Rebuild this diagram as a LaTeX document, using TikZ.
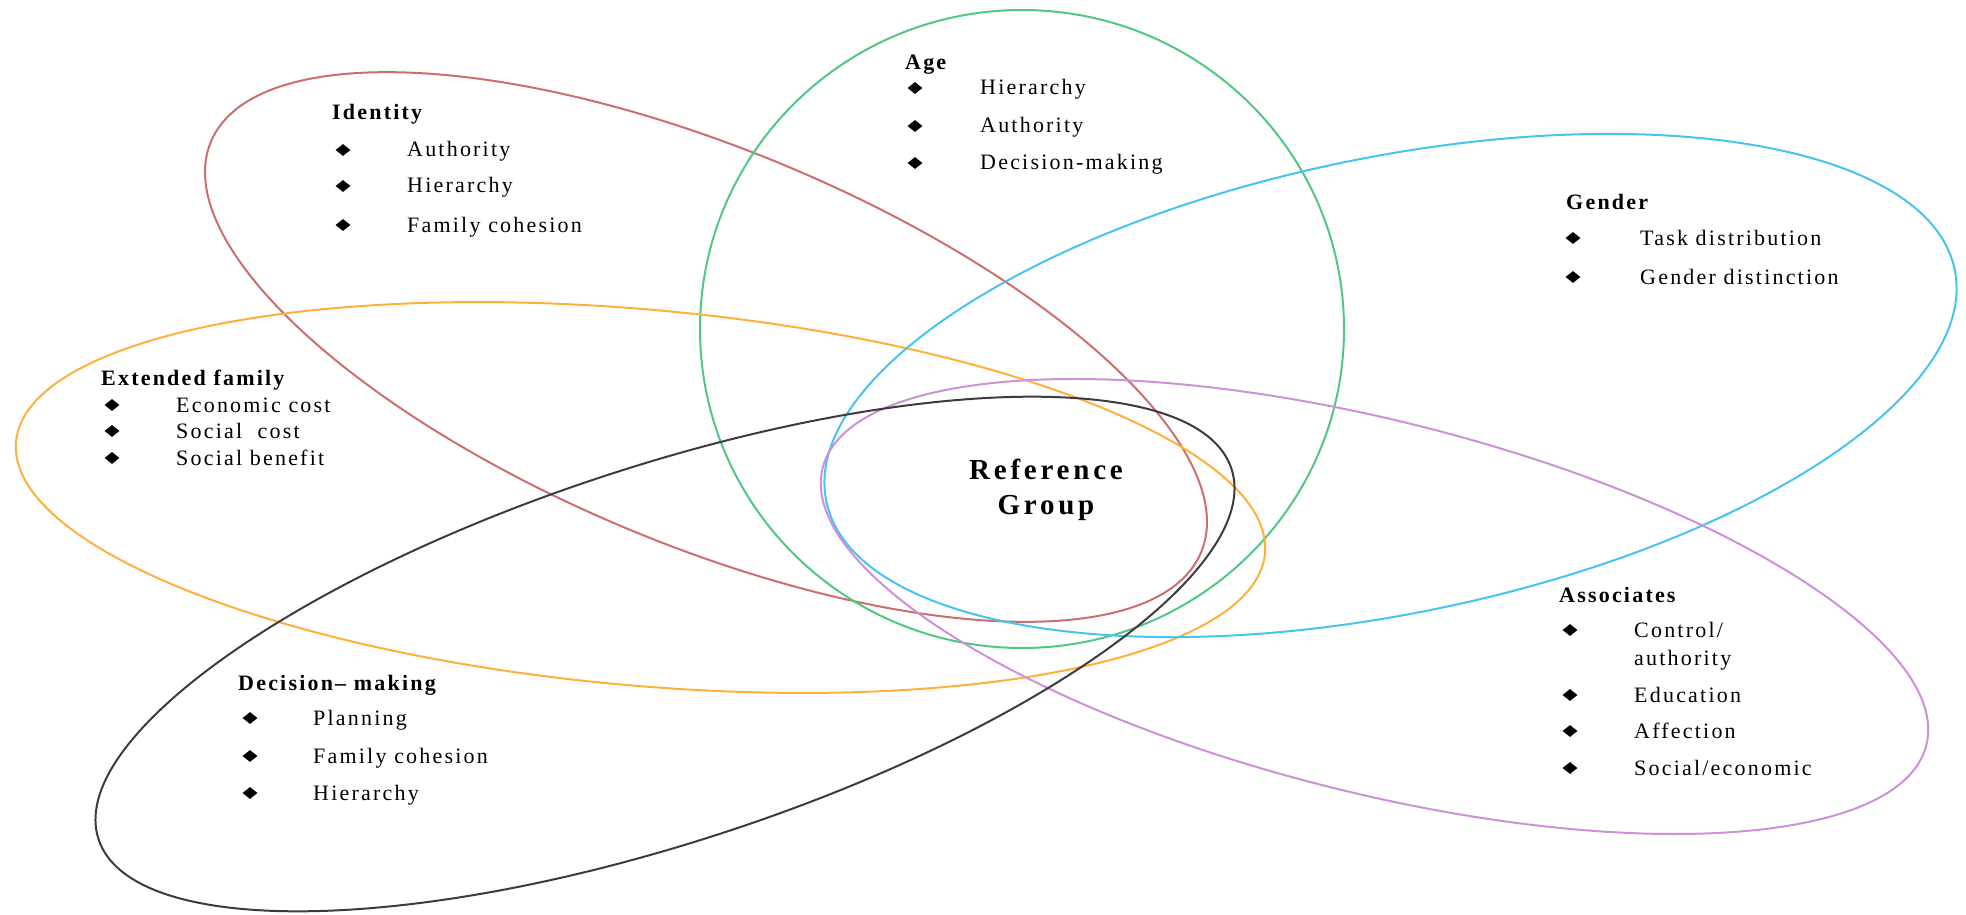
\documentclass[tikz,border=0pt]{standalone}
\usepackage{fontspec}
\setmainfont{Liberation Serif}
\newfontfamily\spacedfont[LetterSpace=10]{Liberation Serif}
\newfontfamily\titlefont[LetterSpace=13]{Liberation Serif}
\usetikzlibrary{shapes.geometric}
\definecolor{idred}{RGB}{205,110,110}
\definecolor{agegreen}{RGB}{80,200,130}
\definecolor{famorange}{RGB}{255,175,60}
\definecolor{genblue}{RGB}{70,195,240}
\definecolor{asspurple}{RGB}{205,145,215}
\definecolor{decgray}{RGB}{60,60,60}
\tikzset{
  ring/.style={line width=2pt},
  head/.style={anchor=base west, inner sep=0pt, font=\spacedfont\bfseries\fontsize{22}{26}\selectfont},
  item/.style={anchor=base west, inner sep=0pt, font=\spacedfont\fontsize{22}{26}\selectfont},
  bul/.style={diamond, fill=black, draw=none, inner sep=0pt, minimum width=15pt, minimum height=12pt},
  title/.style={align=center, inner sep=0pt, font=\titlefont\bfseries\fontsize{29}{35}\selectfont}
}
\begin{document}
\begin{tikzpicture}[x=1pt, y=-1pt]
\useasboundingbox (0,0) rectangle (1966,915);

% the six overlapping category ellipses
\draw[ring, idred, rotate around={-22.5:(706,347)}] (706,347) ellipse [x radius=536, y radius=198];
\draw[ring, agegreen] (1022,329) ellipse [x radius=322, y radius=319];
\draw[ring, famorange, rotate around={-5.1:(640.5,497.5)}] (640.5,497.5) ellipse [x radius=627, y radius=188];
\draw[ring, genblue, rotate around={11.6:(1390.5,385.5)}] (1390.5,385.5) ellipse [x radius=576, y radius=228];
\draw[ring, asspurple, rotate around={-14.1:(1374.5,606.5)}] (1374.5,606.5) ellipse [x radius=569, y radius=186];
\draw[ring, decgray, rotate around={18.1:(665,654)}] (665,654) ellipse [x radius=596, y radius=188];

% centre label
\node[title] (ref) at (1046,490) {Reference\\Group};

% Identity
\node[head] (idH) at (332,120) {Identity};
\node[bul] (idB1) at (343,150) {};
\node[item] (idI1) at (407,157) {Authority};
\node[bul] (idB2) at (343,186) {};
\node[item] (idI2) at (407,193) {Hierarchy};
\node[bul] (idB3) at (343,225) {};
\node[item] (idI3) at (407,232) {Family cohesion};

% Age
\node[head] (ageH) at (905,70) {Age};
\node[bul] (ageB1) at (915,88) {};
\node[item] (ageI1) at (980,95) {Hierarchy};
\node[bul] (ageB2) at (915,126) {};
\node[item] (ageI2) at (980,133) {Authority};
\node[bul] (ageB3) at (915,163) {};
\node[item] (ageI3) at (980,170) {Decision-making};

% Gender
\node[head] (genH) at (1566,209) {Gender};
\node[bul] (genB1) at (1573,238) {};
\node[item] (genI1) at (1640,245) {Task distribution};
\node[bul] (genB2) at (1573,277) {};
\node[item] (genI2) at (1640,284) {Gender distinction};

% Extended family
\node[head] (famH) at (101,385) {Extended family};
\node[bul] (famB1) at (112,405) {};
\node[item] (famI1) at (176,412) {Economic cost};
\node[bul] (famB2) at (112,431) {};
\node[item] (famI2) at (176,438) {Social\ \ cost};
\node[bul] (famB3) at (112,458) {};
\node[item] (famI3) at (176,465) {Social benefit};

% Decision-making
\node[head] (decH) at (238,690) {Decision– making};
\node[bul] (decB1) at (250,718) {};
\node[item] (decI1) at (313,725) {Planning};
\node[bul] (decB2) at (250,756) {};
\node[item] (decI2) at (313,763) {Family cohesion};
\node[bul] (decB3) at (250,793) {};
\node[item] (decI3) at (313,800) {Hierarchy};

% Associates
\node[head] (assH) at (1559,602) {Associates};
\node[bul] (assB1) at (1570,630) {};
\node[item] (assI1) at (1634,637) {Control/};
\node[item] (assI1b) at (1634,665) {authority};
\node[bul] (assB2) at (1570,695) {};
\node[item] (assI2) at (1634,702) {Education};
\node[bul] (assB3) at (1570,731) {};
\node[item] (assI3) at (1634,738) {Affection};
\node[bul] (assB4) at (1570,768) {};
\node[item] (assI4) at (1634,775) {Social/economic};
\end{tikzpicture}
\end{document}
